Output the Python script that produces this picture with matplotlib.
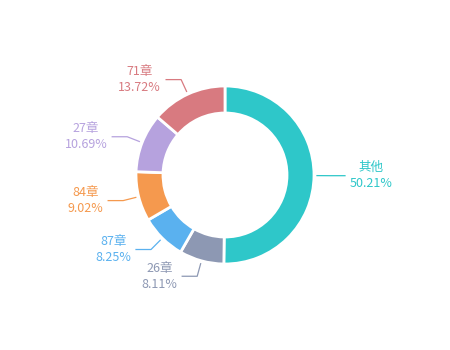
import numpy as np
import matplotlib.pyplot as plt

plt.rcParams['font.family'] = ['Noto Sans CJK SC', 'DejaVu Sans']

# Chapter share data
NAMES = ['其他', '26章', '87章', '84章', '27章', '71章']
PERCENTS = [50.21, 8.11, 8.25, 9.02, 10.69, 13.72]
COLORS = ['#2ec7c9', '#8d98b3', '#5ab1ef', '#f5994e', '#b6a2de', '#d87a80']

# Geometry in pixel units
CX, CY = 225, 175
R_OUT = 89
RING = 27


def main():
    fig = plt.figure(figsize=(4.5, 3.5), dpi=100)
    ax = fig.add_axes([0, 0, 1, 1])
    ax.set_xlim(0, 450)
    ax.set_ylim(0, 350)
    ax.axis('off')

    wedges, _ = ax.pie(PERCENTS, colors=COLORS, startangle=90,
                       counterclock=False, radius=R_OUT, center=(CX, CY),
                       wedgeprops=dict(width=RING, edgecolor='white',
                                       linewidth=2))
    ax.set_xlim(0, 450)
    ax.set_ylim(0, 350)

    # Label lines and texts
    for w, name, pct, color in zip(wedges, NAMES, PERCENTS, COLORS):
        mid = np.deg2rad((w.theta1 + w.theta2) / 2)
        c, s = np.cos(mid), np.sin(mid)
        x0, y0 = CX + (R_OUT + 3) * c, CY + (R_OUT + 3) * s
        x1, y1 = CX + (R_OUT + 16) * c, CY + (R_OUT + 16) * s
        side = 1 if c >= 0 else -1
        x2 = x1 + side * 15
        ax.plot([x0, x1, x2], [y0, y1, y1], color=color, lw=0.9)
        ax.text(x2 + side * 5, y1, '{}\n{:.2f}%'.format(name, pct),
                color=color, fontsize=9, va='center',
                ha='left' if side > 0 else 'right',
                multialignment='center', linespacing=1.35)

    fig.savefig('out.png', dpi=100)


if __name__ == '__main__':
    main()
